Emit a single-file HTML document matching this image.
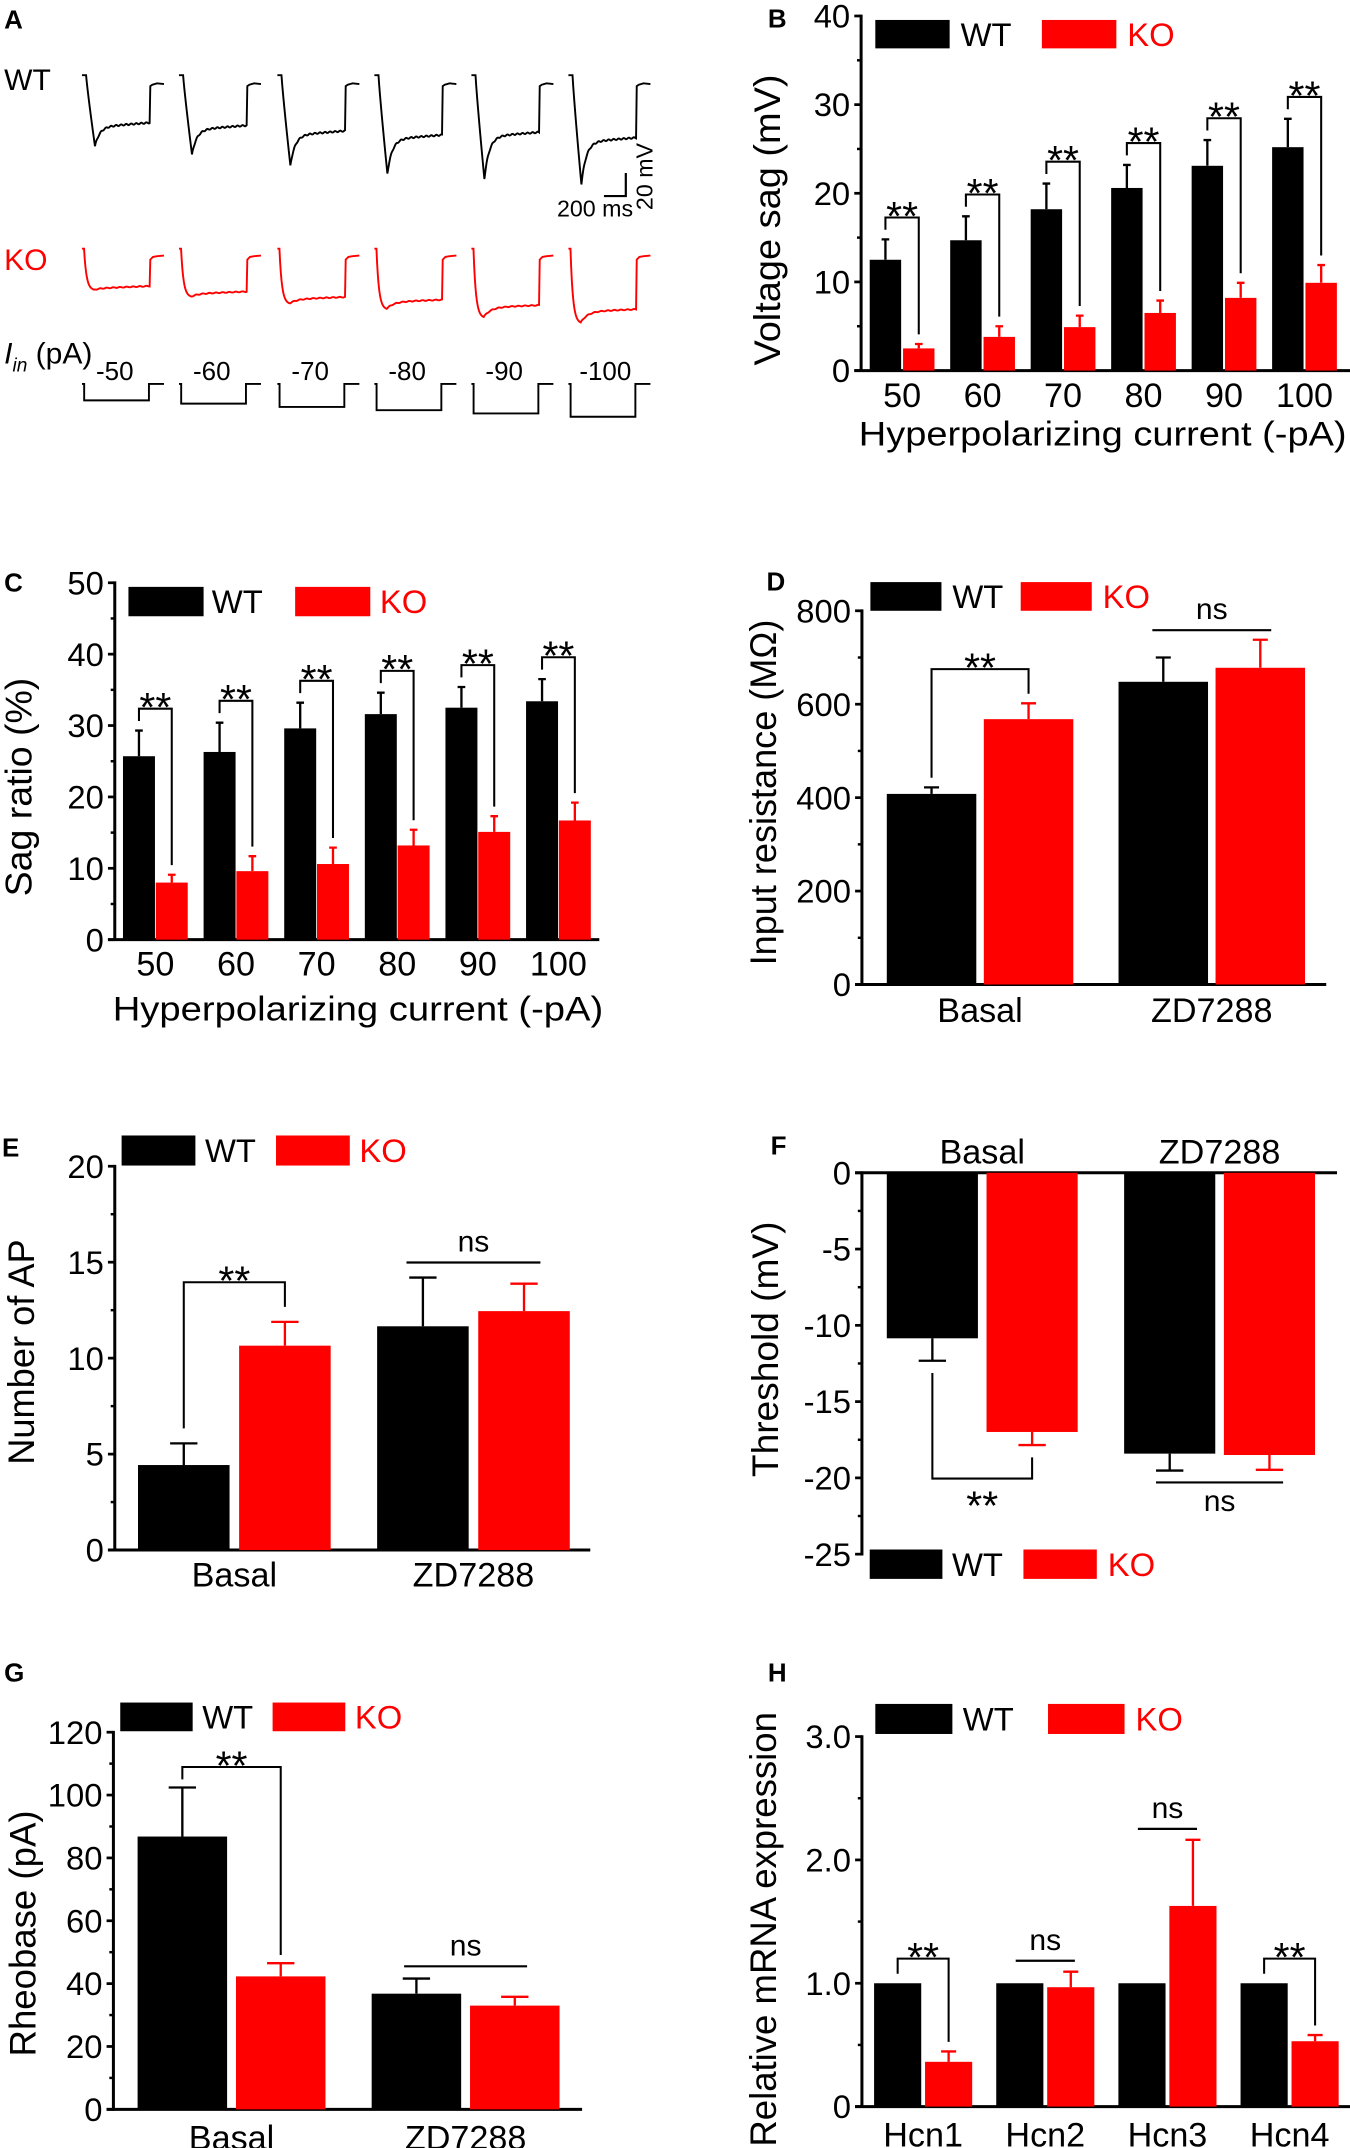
<!DOCTYPE html>
<html><head><meta charset="utf-8">
<style>
html,body{margin:0;padding:0;background:#fff;}
svg{display:block;}
text{font-family:"Liberation Sans",Arial,sans-serif;}
</style></head>
<body>
<svg id="fig" xmlns="http://www.w3.org/2000/svg" width="1350" height="2148" viewBox="0 0 988 1572" preserveAspectRatio="none"></svg>
<script>
// ---------- DATA ----------
const stepCurrents = [-50,-60,-70,-80,-90,-100];
const wtPeakDefl = [52,58,66,72,76,80];
const wtSteadyDefl = [38,40,44,47,45,49];
const koDipDefl = [30,35,40,44,50,54];
const koSteadyDefl = [29,33,37,39,43,46];

const sagCats = ['50','60','70','80','90','100'];
const sagWT = [12.5,14.7,18.2,20.6,23.1,25.2];
const sagWTErr = [2.3,2.7,2.9,2.6,2.9,3.2];
const sagKO = [2.5,3.8,4.9,6.5,8.2,9.9];
const sagKOErr = [0.5,1.2,1.3,1.4,1.7,2.0];
const sagSig = ['**','**','**','**','**','**'];
const sagTicks = [0,10,20,30,40];
const sagTickLabels = ['0','10','20','30','40'];

const ratioCats = ['50','60','70','80','90','100'];
const ratioWT = [25.7,26.3,29.6,31.6,32.5,33.4];
const ratioWTErr = [3.6,4.1,3.6,3.0,2.9,3.1];
const ratioKO = [8.0,9.6,10.6,13.2,15.1,16.7];
const ratioKOErr = [1.1,2.1,2.3,2.2,2.2,2.5];
const ratioSig = ['**','**','**','**','**','**'];
const ratioTicks = [0,10,20,30,40,50];
const ratioTickLabels = ['0','10','20','30','40','50'];

const condCats = ['Basal','ZD7288'];
const rinWT = [408,648];
const rinWTErr = [14,52];
const rinKO = [568,678];
const rinKOErr = [34,60];
const rinSig = ['**','ns'];
const rinTicks = [0,200,400,600,800];
const rinTickLabels = ['0','200','400','600','800'];

const apWT = [4.43,11.66];
const apWTErr = [1.13,2.54];
const apKO = [10.65,12.45];
const apKOErr = [1.24,1.43];
const apSig = ['**','ns'];
const apTicks = [0,5,10,15,20];
const apTickLabels = ['0','5','10','15','20'];

const thrWT = [-10.85,-18.41];
const thrWTErr = [1.47,1.11];
const thrKO = [-16.99,-18.5];
const thrKOErr = [0.86,0.97];
const thrSig = ['**','ns'];
const thrTicks = [0,-5,-10,-15,-20,-25];
const thrTickLabels = ['0','-5','-10','-15','-20','-25'];

const rheoWT = [86.8,36.8];
const rheoWTErr = [15.6,4.8];
const rheoKO = [42.3,33.0];
const rheoKOErr = [4.2,2.8];
const rheoSig = ['**','ns'];
const rheoTicks = [0,20,40,60,80,100,120];
const rheoTickLabels = ['0','20','40','60','80','100','120'];

const hcnCats = ['Hcn1','Hcn2','Hcn3','Hcn4'];
const hcnWT = [1,1,1,1];
const hcnWTErr = [0,0,0,0];
const hcnKO = [0.363,0.968,1.627,0.530];
const hcnKOErr = [0.084,0.126,0.536,0.05];
const hcnSig = ['**','ns','ns','**'];
const hcnTicks = [0,1,2,3];
const hcnTickLabels = ['0','1.0','2.0','3.0'];

// ---------- HELPERS ----------
const NS = 'http://www.w3.org/2000/svg';
const svg = document.getElementById('fig');
function mk(tag, attrs, parent){
  const e = document.createElementNS(NS, tag);
  for (const k in attrs) e.setAttribute(k, attrs[k]);
  (parent || svg).appendChild(e);
  return e;
}
function tx(str, attrs, parent){
  const e = mk('text', attrs, parent);
  e.textContent = str;
  return e;
}
const RED = '#ff0000';

function letter(ch, x, y){
  const t = tx(ch, {x:x, y:y, 'font-size':19, 'font-weight':'bold'});
  
  
}

function legend(g, L){
  const grp = mk('g', {}, g);
  
  
  const cy = (L.y1 + L.y2) / 2;
  const r1 = mk('rect', {x:L.w1, y:L.y1, width:L.w2-L.w1, height:L.y2-L.y1, fill:'#000'}, grp);
  
  
  const t1 = tx('WT', {x:L.wt, y:cy+8.5, 'font-size':24}, grp);
  
  
  const r2 = mk('rect', {x:L.k1, y:L.y1, width:L.k2-L.k1, height:L.y2-L.y1, fill:RED}, grp);
  
  
  const t2 = tx('KO', {x:L.ko, y:cy+8.5, 'font-size':24, fill:RED}, grp);
  
  
}

function barPanel(name, d, G){
  const g = mk('g', {});
  
  
  const yAt = v => G.y0 + v * (G.yv - G.y0) / G.vref;
  const neg = G.vref < 0;
  const yEnd = yAt(G.vref);
  const ya = mk('line', {x1:G.ax, y1:Math.min(G.y0,yEnd)-1, x2:G.ax, y2:Math.max(G.y0,yEnd)+1, stroke:'#000', 'stroke-width':2.2}, g);
  
  
  const xa = mk('line', {x1:G.ax-5, y1:G.y0, x2:G.xEnd, y2:G.y0, stroke:'#000', 'stroke-width':2.2}, g);
  
  
  for (let i = 0; i < d.ticks.length; i++){
    const v = d.ticks[i];
    const y = yAt(v);
    const tk = mk('line', {x1:G.ax-5, y1:y, x2:G.ax, y2:y, stroke:'#000', 'stroke-width':2}, g);
    
    
    const tl = tx(d.tickLabels[i], {x:G.ax-8, y:y+8.5, 'font-size':24, 'text-anchor':'end'}, g);
    
    
    if (i < d.ticks.length - 1){
      const vm = (v + d.ticks[i+1]) / 2;
      const mt = mk('line', {x1:G.ax-3, y1:yAt(vm), x2:G.ax, y2:yAt(vm), stroke:'#000', 'stroke-width':1.8}, g);
      
      
    }
  }
  const yt = tx(G.ytitle, {transform:'translate('+(G.ytx+10)+','+G.yty+') rotate(-90)', 'font-size':27, 'text-anchor':'middle', textLength:G.ytl, lengthAdjust:'spacingAndGlyphs'}, g);
  
  
  if (G.xtitle){
    const xt = tx(G.xtitle, {x:G.xtx, y:G.xty, 'font-size':25, 'text-anchor':'middle', textLength:G.xtl, lengthAdjust:'spacingAndGlyphs'}, g);
    
    
  }
  for (let i = 0; i < d.cats.length; i++){
    const wx = G.left0 + i * G.sp;
    const kx = wx + G.koOff;
    const series = [[wx, d.wt[i], d.wtErr[i], '#000', 'wt'], [kx, d.ko[i], d.koErr[i], RED, 'ko']];
    for (const s of series){
      const yv = yAt(s[1]);
      const r = mk('rect', {x:s[0], y:Math.min(yv,G.y0), width:G.bw, height:Math.abs(G.y0-yv), fill:s[3]}, g);
      
      
      if (s[2] > 0){
        const cx = s[0] + G.bw/2;
        const ye = yAt(s[1] + (neg ? -s[2] : s[2]));
        const el = mk('path', {d:'M'+cx+','+yv+'V'+ye+'M'+(cx-G.cap)+','+ye+'H'+(cx+G.cap), stroke:s[3], 'stroke-width':1.7, fill:'none'}, g);
        
        
      }
    }
    const gc = wx + (G.koOff + G.bw) / 2;
    const cl = tx(d.cats[i], {x:gc, y:G.catY, 'font-size':25, 'text-anchor':'middle'}, g);
    
    
    const wc = wx + G.bw/2, kc = kx + G.bw/2;
    const ew = yAt(d.wt[i] + (neg ? -d.wtErr[i] : d.wtErr[i]));
    const ek = yAt(d.ko[i] + (neg ? -d.koErr[i] : d.koErr[i]));
    if (d.sig[i] === '**'){
      let p, ty;
      if (!neg){
        const top = Math.min(ew, ek) - G.brGap;
        p = 'M'+wc+','+(ew-G.legGap)+'V'+top+'H'+kc+'V'+(ek-G.legGap);
        ty = top + 9;
      } else {
        const bot = Math.max(ew, ek) + G.brGap;
        p = 'M'+wc+','+(ew+G.legGap)+'V'+bot+'H'+kc+'V'+(ek+G.legGap);
        ty = bot + 30;
      }
      const br = mk('path', {d:p, stroke:'#000', 'stroke-width':1.5, fill:'none'}, g);
      
      
      const st = tx('**', {x:(wc+kc)/2, y:ty, 'font-size':30, 'text-anchor':'middle'}, g);
      
      
    } else {
      const ly = neg ? Math.max(ew, ek) + G.nsGap : Math.min(ew, ek) - G.nsGap;
      const nl = mk('line', {x1:wc-G.nsExt, y1:ly, x2:kc+G.nsExt, y2:ly, stroke:'#000', 'stroke-width':1.6}, g);
      
      
      const nt = tx('ns', {x:(wc+kc)/2, y: neg ? ly+21 : ly-8, 'font-size':22, 'text-anchor':'middle'}, g);
      
      
    }
  }
  legend(g, G.leg);
}

// ---------- PANEL A ----------
(function(){
  const g = mk('g', {});
  
  
  letter('A', 3, 21);
  const lw = tx('WT', {x:3, y:66, 'font-size':22}, g);
  
  
  const lk = tx('KO', {x:3, y:197.6, 'font-size':22, fill:RED}, g);
  
  
  const li = tx('', {x:3, y:266, 'font-size':22}, g);
  
  
  const s1 = mk('tspan', {'font-style':'italic'}, li); s1.textContent = 'I';
  const s2 = mk('tspan', {'font-style':'italic', 'font-size':14, dy:6}, li); s2.textContent = 'in';
  const s3 = mk('tspan', {dy:-6}, li); s3.textContent = ' (pA)';
  const x0s = [60,131,203,274,345,416];
  for (let i = 0; i < stepCurrents.length; i++){
    const x0 = x0s[i];
    let b = 55, pk = wtPeakDefl[i], st = wtSteadyDefl[i];
    let d = 'M'+x0+','+b+' L'+(x0+3)+','+b;
    for (let t = 3.5; t <= 9.5; t += 0.5){
      const f = (t-3)/6.5;
      d += ' L'+(x0+t).toFixed(2)+','+(b + pk*Math.pow(f,0.9)).toFixed(2);
    }
    for (let t = 10; t <= 49.5; t += 0.5){
      const y = b + st + (pk-st)*Math.exp(-(t-9.5)/3.5) - (t-9.5)*0.08 + Math.sin(t*1.7+i)*0.5;
      d += ' L'+(x0+t).toFixed(2)+','+y.toFixed(2);
    }
    d += ' L'+(x0+50)+','+(b+8)+' L'+(x0+51.5)+','+(b+7)+' L'+(x0+55)+','+(b+6)+' L'+(x0+60)+','+(b+6.5);
    const pw = mk('path', {d:d, stroke:'#000', 'stroke-width':1.4, fill:'none'}, g);
    
    
    b = 182; pk = koDipDefl[i]; st = koSteadyDefl[i];
    d = 'M'+x0+','+b+' L'+(x0+1.5)+','+b;
    for (let t = 2; t <= 9; t += 0.5){
      d += ' L'+(x0+t).toFixed(2)+','+(b + pk*(1-Math.exp(-(t-1.5)/1.8))/(1-Math.exp(-7.5/1.8))).toFixed(2);
    }
    for (let t = 9.5; t <= 49.5; t += 0.5){
      const y = b + st + (pk-st)*Math.exp(-(t-9)/5) - (t-9)*0.04 + Math.sin(t*1.3+i)*0.3;
      d += ' L'+(x0+t).toFixed(2)+','+y.toFixed(2);
    }
    d += ' L'+(x0+50)+','+(b+8)+' L'+(x0+52)+','+(b+6)+' L'+(x0+55)+','+(b+5.5)+' L'+(x0+60)+','+(b+5);
    const pk2 = mk('path', {d:d, stroke:RED, 'stroke-width':1.4, fill:'none'}, g);
    
    
    const yb = 281 + Math.abs(stepCurrents[i]) * 0.24;
    const sp = mk('path', {d:'M'+x0+',281 H'+(x0+1.6)+' V'+yb+' H'+(x0+49)+' V281 H'+(x0+60), stroke:'#000', 'stroke-width':1.4, fill:'none'}, g);
    
    
    const sl = tx(String(stepCurrents[i]), {x:x0 + (i===5 ? 27 : 24), y:278, 'font-size':19, 'text-anchor':'middle'}, g);
    
    
  }
  const sb = mk('path', {d:'M442,143.5 H458 V126.6', stroke:'#000', 'stroke-width':1.6, fill:'none'}, g);
  
  
  const sbt = tx('200 ms', {x:435.5, y:158.6, 'font-size':17, 'text-anchor':'middle'}, g);
  
  
  const sbv = tx('20 mV', {transform:'translate(477.5,129.2) rotate(-90)', 'font-size':17, 'text-anchor':'middle'}, g);
  
  
})();

// ---------- PANELS ----------
letter('B', 562, 20);
barPanel('panel-b-voltage-sag', {cats:sagCats, wt:sagWT, wtErr:sagWTErr, ko:sagKO, koErr:sagKOErr, sig:sagSig, ticks:sagTicks, tickLabels:sagTickLabels},
  {ax:630.2, y0:271.2, yv:11.7, vref:40, xEnd:988, left0:636.5, sp:58.9, bw:23, koOff:24.4, cap:2.8,
   ytitle:'Voltage sag (mV)', ytx:561, yty:161, ytl:213, xtitle:'Hyperpolarizing current (-pA)', xtx:807, xty:326, xtl:357,
   catY:298, brGap:16, legGap:7, nsGap:8, nsExt:8,
   leg:{w1:640.6, w2:695, y1:14.6, y2:35.4, wt:703, k1:762.5, k2:817, ko:825}});

letter('C', 3, 433);
barPanel('panel-c-sag-ratio', {cats:ratioCats, wt:ratioWT, wtErr:ratioWTErr, ko:ratioKO, koErr:ratioKOErr, sig:ratioSig, ticks:ratioTicks, tickLabels:ratioTickLabels},
  {ax:84, y0:687.7, yv:426.5, vref:50, xEnd:438.6, left0:90, sp:59.0, bw:23.4, koOff:24, cap:2.8,
   ytitle:'Sag ratio (%)', ytx:13, yty:576, ytl:160, xtitle:'Hyperpolarizing current (-pA)', xtx:262, xty:747, xtl:359,
   catY:714, brGap:16, legGap:7, nsGap:8, nsExt:8,
   leg:{w1:94, w2:149, y1:429.5, y2:451, wt:155, k1:216, k2:271, ko:278}});

letter('D', 561, 432);
barPanel('panel-d-input-resistance', {cats:condCats, wt:rinWT, wtErr:rinWTErr, ko:rinKO, koErr:rinKOErr, sig:rinSig, ticks:rinTicks, tickLabels:rinTickLabels},
  {ax:630.8, y0:720.5, yv:447, vref:800, xEnd:970.6, left0:649, sp:169.6, bw:65.5, koOff:71, cap:5.5,
   ytitle:'Input resistance (M\u03A9)', ytx:558, yty:580, ytl:253,
   catY:748, brGap:25, legGap:7, nsGap:7, nsExt:8,
   leg:{w1:637, w2:689, y1:426, y2:447, wt:697, k1:747, k2:799, ko:807}});

letter('E', 1.5, 846.5);
barPanel('panel-e-number-of-ap', {cats:condCats, wt:apWT, wtErr:apWTErr, ko:apKO, koErr:apKOErr, sig:apSig, ticks:apTicks, tickLabels:apTickLabels},
  {ax:84, y0:1134.4, yv:853.5, vref:20, xEnd:432, left0:101, sp:175, bw:67, koOff:74, cap:10,
   ytitle:'Number of AP', ytx:15, yty:989.5, ytl:165,
   catY:1161, brGap:29, legGap:11, nsGap:11, nsExt:12,
   leg:{w1:89, w2:143, y1:831, y2:853, wt:150, k1:202, k2:256, ko:263}});

letter('F', 564, 845);
barPanel('panel-f-threshold', {cats:condCats, wt:thrWT, wtErr:thrWTErr, ko:thrKO, koErr:thrKOErr, sig:thrSig, ticks:thrTicks, tickLabels:thrTickLabels},
  {ax:630.8, y0:858.3, yv:1137.4, vref:-25, xEnd:978.5, left0:649, sp:173.7, bw:66.7, koOff:73, cap:10,
   ytitle:'Threshold (mV)', ytx:559.4, yty:987.5, ytl:187,
   catY:851.5, brGap:24.5, legGap:9, nsGap:8.7, nsExt:10,
   leg:{w1:636.5, w2:689.7, y1:1134, y2:1155.5, wt:696.7, k1:749, k2:802.7, ko:810.7}});

letter('G', 3, 1230.6);
barPanel('panel-g-rheobase', {cats:condCats, wt:rheoWT, wtErr:rheoWTErr, ko:rheoKO, koErr:rheoKOErr, sig:rheoSig, ticks:rheoTicks, tickLabels:rheoTickLabels},
  {ax:83, y0:1543.7, yv:1267.7, vref:120, xEnd:426, left0:100.7, sp:171.3, bw:65.5, koOff:72, cap:10,
   ytitle:'Rheobase (pA)', ytx:16, yty:1415, ytl:180,
   catY:1573, brGap:15, legGap:6, nsGap:9, nsExt:9,
   leg:{w1:88, w2:141, y1:1246, y2:1267, wt:148, k1:199.5, k2:252.7, ko:259.7}});

letter('H', 562, 1230.6);
barPanel('panel-h-mrna-expression', {cats:hcnCats, wt:hcnWT, wtErr:hcnWTErr, ko:hcnKO, koErr:hcnKOErr, sig:hcnSig, ticks:hcnTicks, tickLabels:hcnTickLabels},
  {ax:630.8, y0:1541.7, yv:1270.9, vref:3, xEnd:988, left0:639.7, sp:89.4, bw:34.5, koOff:37.3, cap:5.5,
   ytitle:'Relative mRNA expression', ytx:558, yty:1412, ytl:318,
   catY:1571, brGap:18, legGap:7, nsGap:8, nsExt:3,
   leg:{w1:640.6, w2:697, y1:1247, y2:1269, wt:704.6, k1:767, k2:823, ko:831}});
</script>
</body></html>
